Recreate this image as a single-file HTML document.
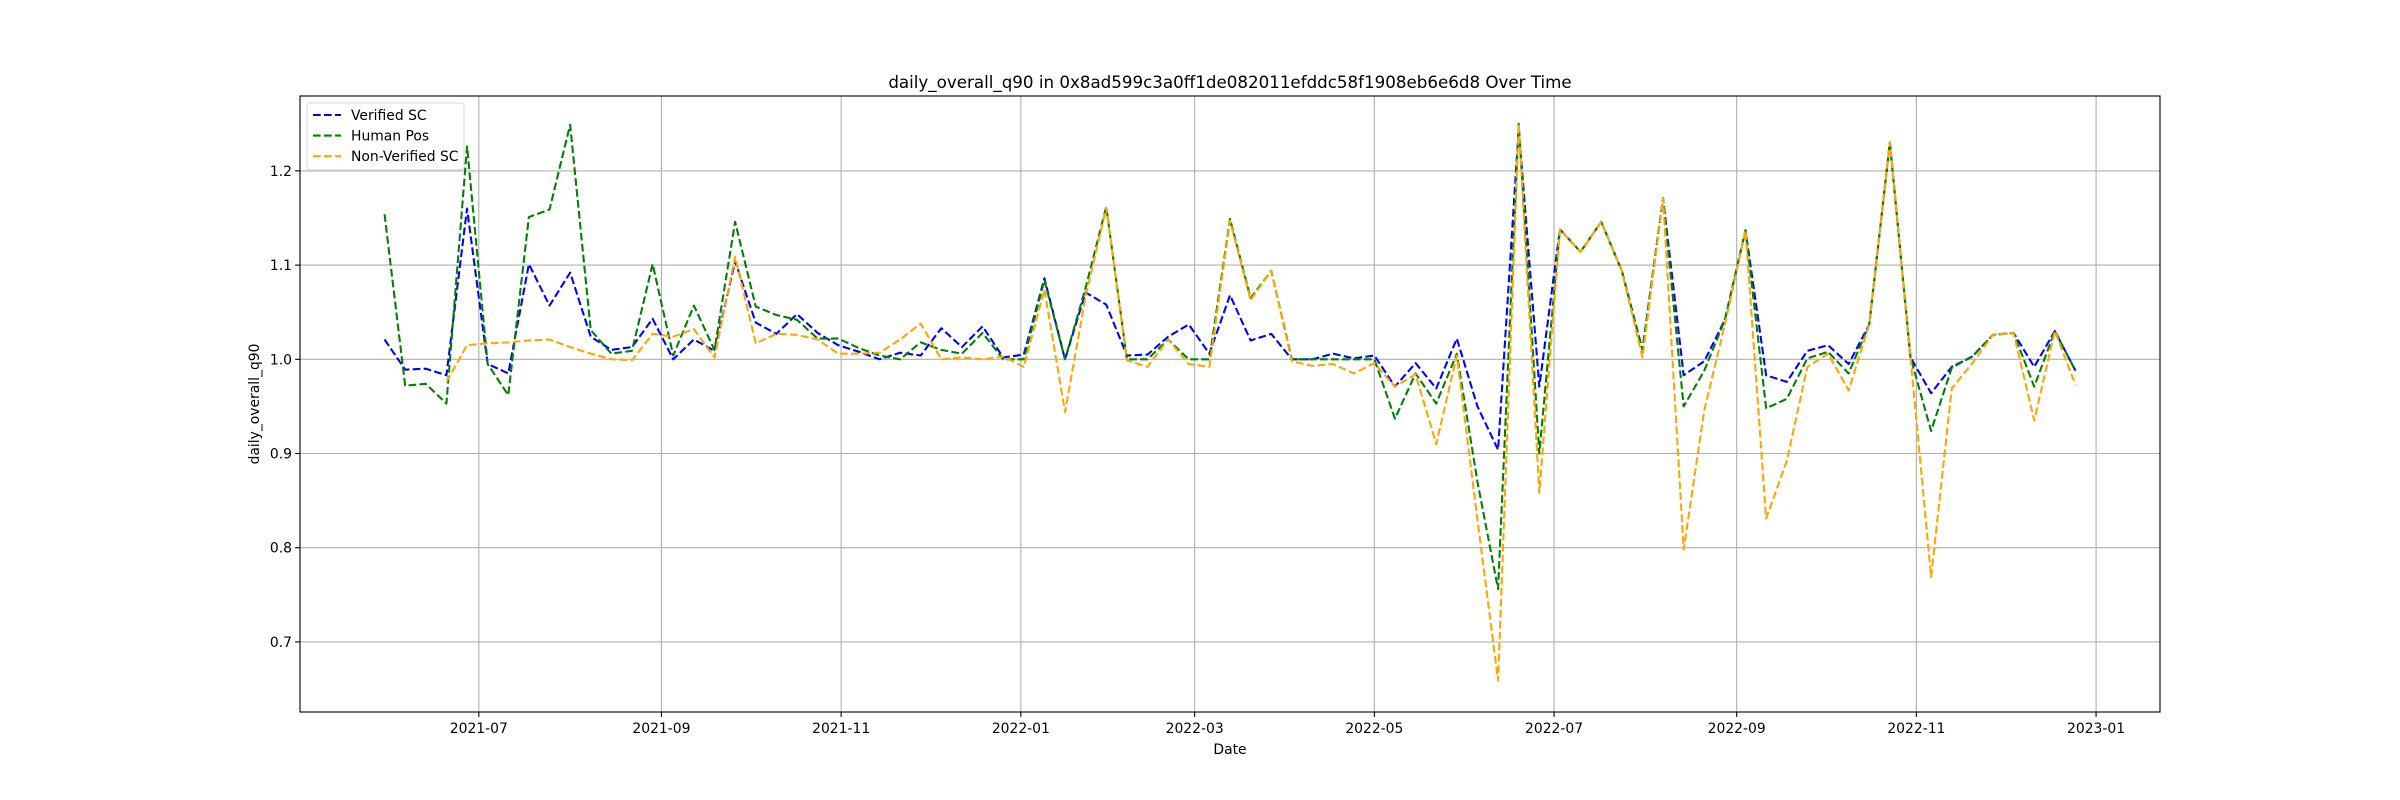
<!DOCTYPE html>
<html><head><meta charset="utf-8"><style>
html,body{margin:0;padding:0;background:#fff}
svg{display:block;font-family:"DejaVu Sans","Liberation Sans",sans-serif}
</style></head><body>
<svg id="chart" width="2400" height="800" viewBox="0 0 2400 800" xmlns="http://www.w3.org/2000/svg">
<rect x="0" y="0" width="2400" height="800" fill="#fff"/>
<text x="1230" y="88" text-anchor="middle" font-size="16.7" fill="#000">daily_overall_q90 in 0x8ad599c3a0ff1de082011efddc58f1908eb6e6d8 Over Time</text>
<g id="grid"></g>
<g id="series"></g>
<rect x="300" y="96" width="1860" height="616" fill="none" stroke="#000" stroke-width="1.1"/>
<g id="ticks"></g>
<text x="1230" y="754" text-anchor="middle" font-size="13.9" fill="#000">Date</text>
<text x="0" y="0" transform="translate(259,404) rotate(-90)" text-anchor="middle" font-size="13.9" fill="#000">daily_overall_q90</text>
<g id="legend">
<rect x="307" y="103" width="157" height="67" rx="3" fill="#fff" fill-opacity="0.8" stroke="#d6d6d6"/>
</g>
</svg>
<script>
const seriesNames = ["Verified SC","Human Pos","Non-Verified SC"];
const startDate = "2021-05-30";
const stepDays = 7;
const verified = [1.021,0.989,0.990,0.983,1.160,0.995,0.985,1.101,1.057,1.092,1.024,1.010,1.013,1.043,1.000,1.021,1.009,1.104,1.039,1.027,
1.048,1.028,1.015,1.008,1.000,1.007,1.004,1.033,1.013,1.035,1.002,1.005,1.086,1.000,1.071,1.058,1.004,1.005,1.024,1.037,
1.006,1.068,1.020,1.027,1.000,1.000,1.006,1.001,1.004,0.971,0.996,0.969,1.022,0.950,0.904,1.245,0.971,1.138,1.114,1.146,
1.094,1.010,1.171,0.983,0.998,1.042,1.137,0.983,0.976,1.009,1.015,0.995,1.037,1.230,1.002,0.964,0.992,1.003,1.026,1.028,0.992,1.030,0.988];
const human = [1.154,0.972,0.974,0.953,1.226,0.995,0.962,1.151,1.159,1.249,1.031,1.006,1.009,1.101,1.004,1.057,1.010,1.146,1.056,1.047,
1.042,1.022,1.022,1.012,1.004,1.000,1.018,1.010,1.006,1.028,1.000,1.000,1.084,1.000,1.076,1.162,1.000,1.000,1.021,1.000,
1.000,1.149,1.065,1.094,1.000,1.000,1.000,1.000,1.000,0.937,0.985,0.953,1.006,0.870,0.756,1.250,0.900,1.138,1.114,1.146,
1.094,1.010,1.171,0.950,0.988,1.042,1.137,0.948,0.958,1.001,1.008,0.985,1.037,1.230,1.002,0.924,0.991,1.003,1.026,1.028,0.971,1.030,0.988];
const nonVerified = [null,null,null,0.976,1.015,1.017,1.018,1.020,1.021,1.013,1.006,1.000,0.999,1.027,1.024,1.032,1.002,1.109,1.017,1.027,
1.026,1.021,1.006,1.006,1.007,1.021,1.038,1.000,1.002,1.000,1.003,0.992,1.074,0.944,1.067,1.161,0.999,0.992,1.021,0.995,
0.992,1.147,1.063,1.094,0.998,0.993,0.995,0.985,0.996,0.971,0.984,0.910,1.004,0.830,0.659,1.250,0.858,1.138,1.114,1.146,
1.094,1.002,1.171,0.798,0.946,1.037,1.137,0.831,0.892,0.992,1.006,0.967,1.037,1.230,1.002,0.769,0.969,0.996,1.026,1.028,0.935,1.030,0.973];
const xTickLabels = ["2021-07","2021-09","2021-11","2022-01","2022-03","2022-05","2022-07","2022-09","2022-11","2023-01"];
const yTickValues = [0.7,0.8,0.9,1.0,1.1,1.2];

const NS="http://www.w3.org/2000/svg";
const L=300,R=2160,T=96,B=712,yMin=0.6256,yMax=1.2795;
const DAY=86400000;
const t0=Date.parse(startDate+"T00:00:00Z");
const nPts=verified.length;
const spanDays=(nPts-1)*stepDays;
const xlo=t0-0.05*spanDays*DAY, xhi=t0+1.05*spanDays*DAY;
function xScale(ms){return L+(ms-xlo)/(xhi-xlo)*(R-L);}
function xIdx(i){return xScale(t0+i*stepDays*DAY);}
function yScale(v){return B-(v-yMin)/(yMax-yMin)*(B-T);}
function mk(tag,attrs,parent){const e=document.createElementNS(NS,tag);for(const k in attrs)e.setAttribute(k,attrs[k]);parent.appendChild(e);return e;}

const grid=document.getElementById('grid'), ticks=document.getElementById('ticks');
xTickLabels.forEach(lab=>{
  const x=xScale(Date.parse(lab+"-01T00:00:00Z"));
  const g=mk('line',{x1:x,x2:x,y1:T,y2:B,stroke:'#b0b0b0','stroke-width':1.1},grid);
  
  
  const tk=mk('line',{x1:x,x2:x,y1:B,y2:B+4.9,stroke:'#000','stroke-width':1.1},ticks);
  
  
  const t=mk('text',{x:x,y:B+21,'text-anchor':'middle','font-size':13.9,fill:'#000'},ticks);
  
  
  t.textContent=lab;
});
yTickValues.forEach(v=>{
  const y=yScale(v);
  const g=mk('line',{x1:L,x2:R,y1:y,y2:y,stroke:'#b0b0b0','stroke-width':1.1},grid);
  
  
  const tk=mk('line',{x1:L-4.9,x2:L,y1:y,y2:y,stroke:'#000','stroke-width':1.1},ticks);
  
  
  const t=mk('text',{x:L-8,y:y+5,'text-anchor':'end','font-size':13.9,fill:'#000'},ticks);
  
  
  t.textContent=v.toFixed(1);
});

const colors=['#0000ff','#008000','#ffa500'];
const slugs=['verified-sc-line','human-pos-line','non-verified-sc-line'];
const sg=document.getElementById('series');
[verified,human,nonVerified].forEach((arr,si)=>{
  let d='',pen=false;
  arr.forEach((v,i)=>{
    if(v===null||v===undefined){pen=false;return;}
    d+=(pen?'L':'M')+xIdx(i).toFixed(2)+' '+yScale(v).toFixed(2)+' ';
    pen=true;
  });
  const p=mk('path',{d:d,fill:'none',stroke:colors[si],'stroke-width':2.08,'stroke-dasharray':'7.7 3.3','stroke-linejoin':'round'},sg);
  
  
});

const lg=document.getElementById('legend');
seriesNames.forEach((nm,i)=>{
  const y=115+i*20.6;
  const ln=mk('line',{x1:313,x2:341,y1:y,y2:y,stroke:colors[i],'stroke-width':2.08,'stroke-dasharray':'7.7 3.3'},lg);
  
  
  const t=mk('text',{x:351,y:y+5,'font-size':13.9,fill:'#000'},lg);
  
  
  t.textContent=nm;
});
</script>
</body></html>
